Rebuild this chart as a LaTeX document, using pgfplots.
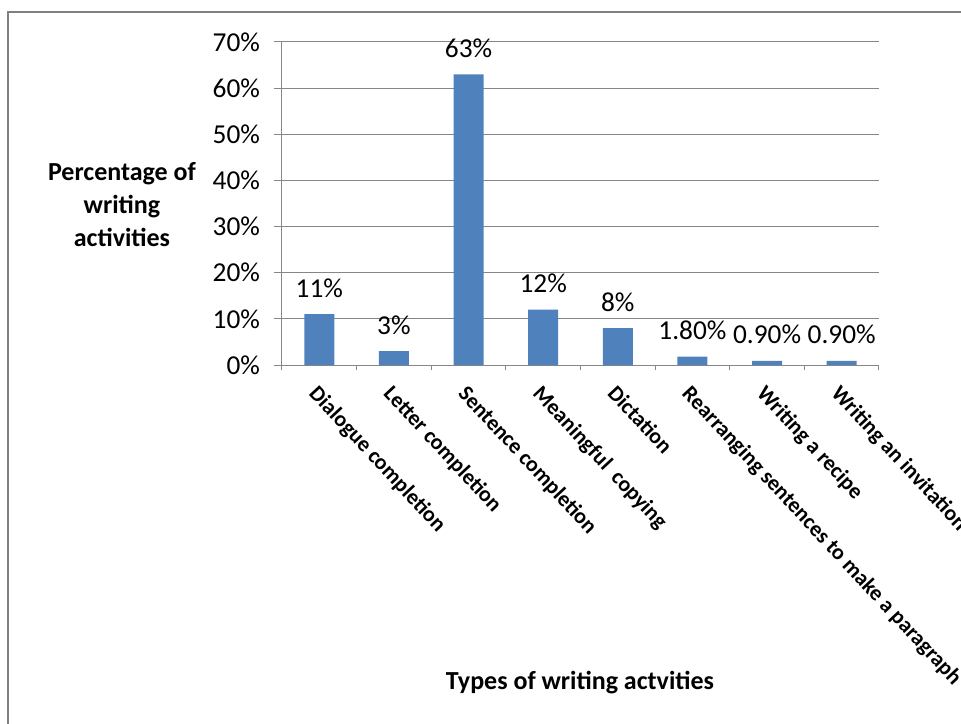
\documentclass[border=0pt]{standalone}
\usepackage{fontspec}
\setmainfont{Carlito}
\usepackage{pgfplots}
\pgfplotsset{compat=1.18}
\definecolor{barblue}{HTML}{4F81BD}
\definecolor{gridgray}{HTML}{868686}
\definecolor{framegray}{HTML}{808080}
\begin{document}
\begin{tikzpicture}
\useasboundingbox (-211.5pt,-269.25pt) rectangle (509.25pt,273.75pt);
\draw[framegray, line width=1.5pt] (-205.5pt,-280pt) -- (-205.5pt,264.75pt) -- (520pt,264.75pt);
\begin{axis}[
  at={(0pt,0pt)}, anchor=south west,
  width=447.75pt, height=242.25pt, scale only axis,
  ymin=0, ymax=70, xmin=-0.5, xmax=7.5,
  ytick={0,10,...,70},
  yticklabel={\pgfmathprintnumber{\tick}\%},
  /pgf/number format/assume math mode=true,
  axis x line=bottom, axis y line=left,
  axis line style={gridgray, line width=0.75pt, -},
  ymajorgrids, grid style={gridgray, line width=0.75pt},
  tick style={gridgray, line width=0.75pt},
  tick align=outside,
  major tick length=6pt, minor tick length=4pt,
  xtick={0,...,7},
  xticklabels={Dialogue completion, Letter completion, Sentence completion, Meaningful\ \ copying, Dictation, Rearranging sentences to make a paragraph, Writing a recipe, Writing an invitation},
  minor xtick={-0.5,0.5,...,7.5},
  major x tick style={draw=none},
  yticklabel style={font=\fontsize{20.5}{22}\selectfont, text=black, xshift=-7pt},
  xticklabel style={font=\bfseries\fontsize{16.5}{16}\selectfont, text=black, rotate=-47, anchor=north west, xshift=2.5pt, yshift=-2pt},
  clip=false,
]
\addplot[ybar, bar width=22.5pt, fill=barblue, draw=none,
  nodes near coords, point meta=explicit symbolic,
  nodes near coords style={font=\fontsize{20.5}{22}\selectfont, text=black, anchor=south, yshift=9pt}]
  coordinates {
  (0,11) [11\%]
  (1,3) [3\%]
  (2,63) [63\%]
  (3,12) [12\%]
  (4,8) [8\%]
  (5,1.8) [1.80\%]
  (6,0.9) [0.90\%]
  (7,0.9) [0.90\%]
  };
\end{axis}
\node[align=center, font=\bfseries\fontsize{19.5}{24.75}\selectfont] at (-120pt,120pt) {Percentage of\\writing\\activities};
\node[font=\bfseries\fontsize{19.5}{22}\selectfont] at (223.5pt,-238.5pt) {Types of writing actvities};
\end{tikzpicture}
\end{document}
